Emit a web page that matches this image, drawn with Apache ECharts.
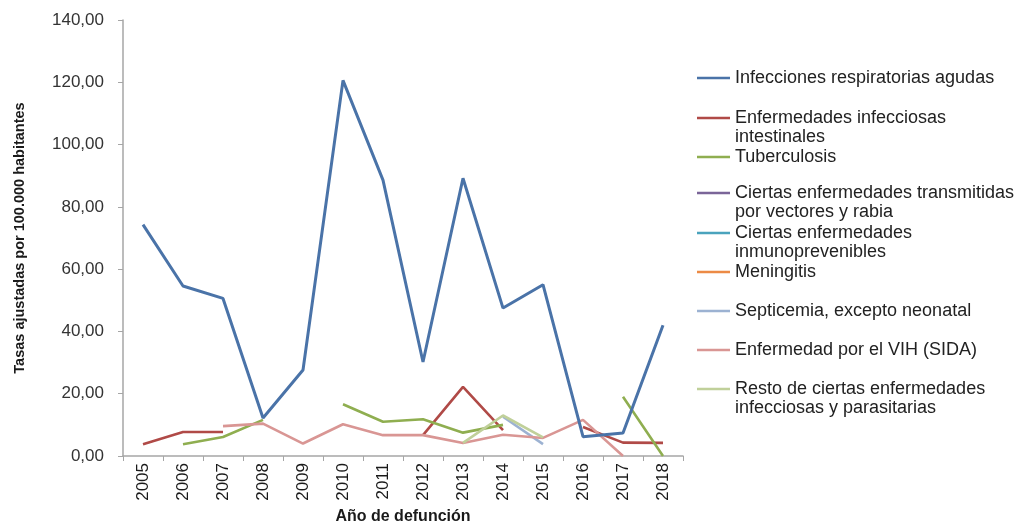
<!DOCTYPE html>
<html><head><meta charset="utf-8">
<script src="https://cdn.jsdelivr.net/npm/echarts@6/dist/echarts.min.js"></script>
<style>html,body{margin:0;padding:0;background:#fff}#c{width:1021px;height:521px}</style>
</head><body><div id="c"></div>
<script>
var years = ['2005','2006','2007','2008','2009','2010','2011','2012','2013','2014','2015','2016','2017','2018'];
var seriesNames = [
  'Infecciones respiratorias agudas',
  'Enfermedades infecciosas intestinales',
  'Tuberculosis',
  'Ciertas enfermedades transmitidas por vectores y rabia',
  'Ciertas enfermedades inmunoprevenibles',
  'Meningitis',
  'Septicemia, excepto neonatal',
  'Enfermedad por el VIH (SIDA)',
  'Resto de ciertas enfermedades infecciosas y parasitarias'
];
var legendLines = [
  ['Infecciones respiratorias agudas'],
  ['Enfermedades infecciosas', 'intestinales'],
  ['Tuberculosis'],
  ['Ciertas enfermedades transmitidas', 'por vectores y rabia'],
  ['Ciertas enfermedades', 'inmunoprevenibles'],
  ['Meningitis'],
  ['Septicemia, excepto neonatal'],
  ['Enfermedad por el VIH (SIDA)'],
  ['Resto de ciertas enfermedades', 'infecciosas y parasitarias']
];
var infResp   = [74.3, 54.6, 50.6, 12.2, 27.6, 120.6, 88.6, 30.2, 89.2, 47.5, 55.0, 6.2, 7.4, 42.0];
var intest    = [3.8, 7.7, 7.7, null, null, null, null, 6.7, 22.2, 8.3, null, 9.3, 4.3, 4.2];
var tuberc    = [null, 3.8, 6.1, 11.6, null, 16.6, 11.0, 11.8, 7.5, 10.0, null, null, 19.0, 0.0];
var vectores  = [null, null, null, null, null, null, null, null, null, null, null, null, null, null];
var inmuno    = [null, null, null, null, null, null, null, null, null, null, null, null, null, null];
var mening    = [null, null, null, null, null, null, null, null, null, null, null, null, null, null];
var septic    = [null, null, null, null, null, null, null, null, null, 12.6, 3.8, null, null, null];
var vih       = [null, null, 9.6, 10.4, 4.0, 10.2, 6.7, 6.7, 4.2, 6.8, 5.8, 11.6, 0.0, null];
var resto     = [null, null, null, null, null, null, null, null, 4.2, 13.0, 6.0, null, null, null];
var seriesData = [infResp, intest, tuberc, vectores, inmuno, mening, septic, vih, resto];
var colors = ['#4a73a8', '#b04a47', '#8fae50', '#7a6598', '#4aa3bd', '#ec8a45', '#9cb2d2', '#d99694', '#c0d09a'];

var fontFam = '"Liberation Sans", Arial, sans-serif';
var LH = 19;
var legendY = [78, 118, 157, 193, 233, 272, 311, 350, 389];

var chart = echarts.init(document.getElementById('c'), null, {renderer: 'canvas'});

var legends = seriesNames.map(function (n, i) {
  var lines = legendLines[i];
  var txt = lines.length > 1 ? '\n' + lines.join('\n') : lines[0];
  var nL = lines.length > 1 ? 3 : 1;
  return {
    data: [n],
    left: 697,
    top: legendY[i] - nL * LH / 2,
    padding: 0,
    orient: 'vertical',
    icon: 'rect',
    itemWidth: 33,
    itemHeight: 2.5,
    selectedMode: false,
    formatter: function () { return txt; },
    textStyle: {fontFamily: fontFam, fontSize: 18, color: '#222', lineHeight: LH}
  };
});

var series = seriesNames.map(function (n, i) {
  return {
    name: n, type: 'line', data: seriesData[i],
    symbol: 'none', connectNulls: false,
    lineStyle: {color: colors[i], width: i === 0 ? 3 : 2.6},
    itemStyle: {color: colors[i]},
    z: i === 0 ? 3 : 2
  };
});

chart.setOption({
  animation: false,
  backgroundColor: '#fff',
  color: colors,
  grid: {left: 123, right: 338, top: 20, bottom: 65, containLabel: false, outerBoundsMode: 'none'},
  legend: legends,
  xAxis: {
    type: 'category', data: years, boundaryGap: true,
    name: 'Año de defunción', nameLocation: 'middle', nameGap: 47,
    nameTextStyle: {fontFamily: fontFam, fontSize: 16, fontWeight: 'bold', color: '#1a1a1a'},
    axisLine: {lineStyle: {color: '#a6a6a6', width: 1.5}},
    axisTick: {show: true, alignWithLabel: false, length: 5, lineStyle: {color: '#a6a6a6'}},
    axisLabel: {rotate: 90, fontFamily: fontFam, fontSize: 17, color: '#1a1a1a', margin: 7}
  },
  yAxis: {
    type: 'value', min: 0, max: 140, interval: 20,
    name: 'Tasas ajustadas por 100.000 habitantes', nameLocation: 'middle', nameGap: 96,
    nameRotate: 90,
    nameTextStyle: {fontFamily: fontFam, fontSize: 14.5, fontWeight: 'bold', color: '#1a1a1a'},
    axisLine: {show: true, lineStyle: {color: '#a6a6a6', width: 1.5}},
    axisTick: {show: true, length: 5, lineStyle: {color: '#a6a6a6'}},
    splitLine: {show: false},
    axisLabel: {
      fontFamily: fontFam, fontSize: 17, color: '#333', margin: 19,
      formatter: function (v) { return v.toFixed(2).replace('.', ','); }
    }
  },
  series: series
});
</script></body></html>
